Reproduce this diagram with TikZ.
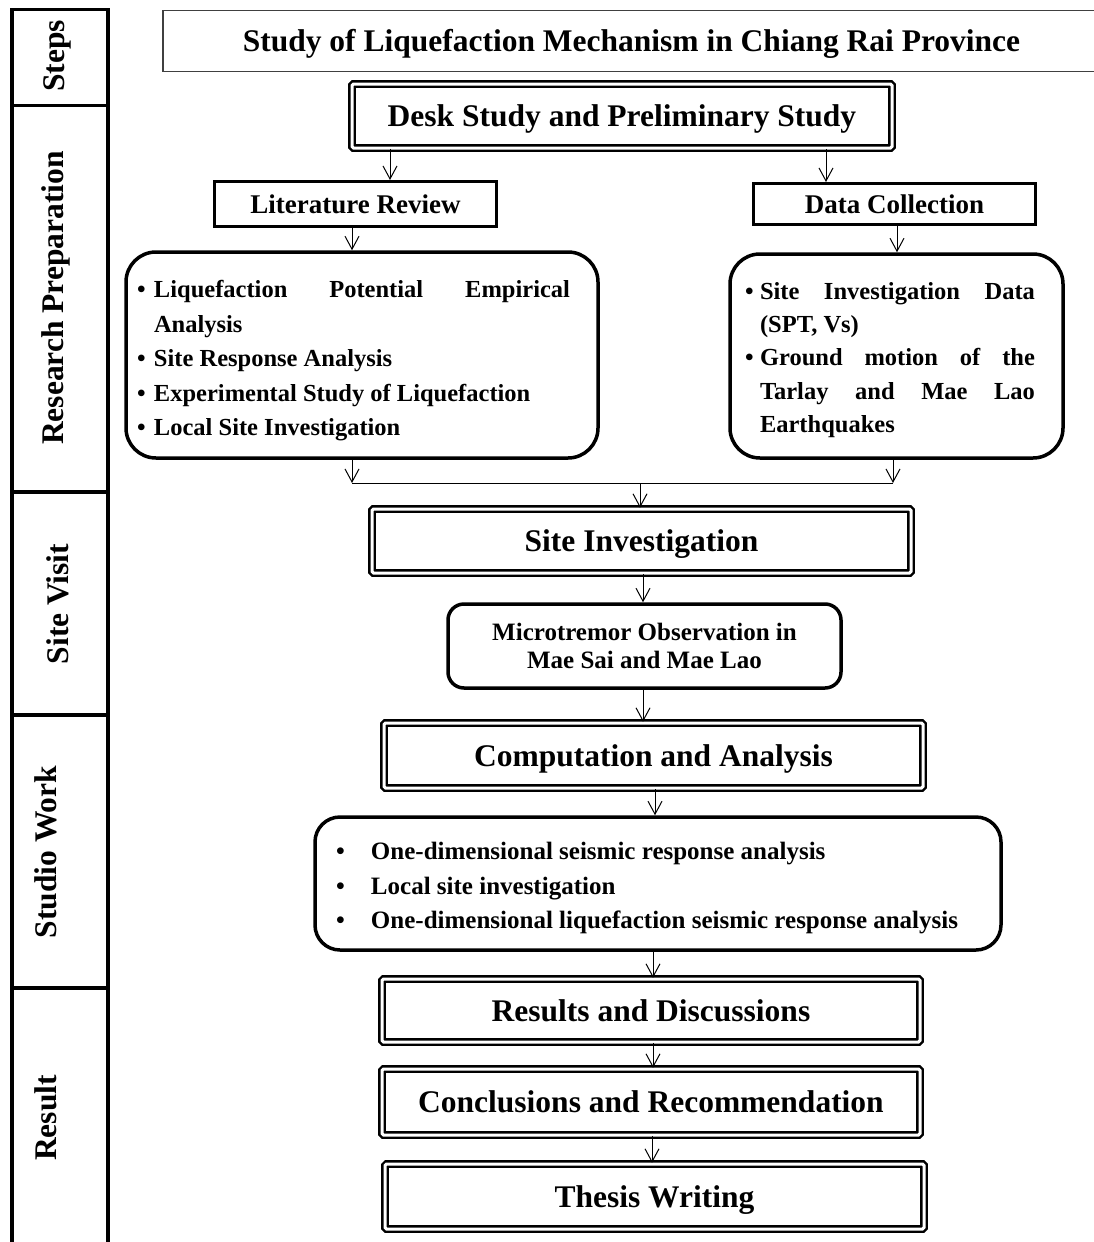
\documentclass[tikz,border=0pt]{standalone}
\usepackage{fontspec}
\setmainfont{Liberation Serif}
\usetikzlibrary{arrows.meta}
\newcommand\myBig{\fontsize{31.5}{36}\selectfont\bfseries}
\newcommand\myMid{\fontsize{27}{32}\selectfont\bfseries}
\newcommand\mySmall{\fontsize{24.5}{34.5}\selectfont\bfseries}
\newcommand\myList{\fontsize{25}{34.5}\selectfont\bfseries}
\begin{document}
\begin{tikzpicture}[x=1pt,y=-1pt,
  cell/.style={draw, line width=3.5pt, minimum width=96pt, inner sep=0pt},
  dbox/.style={draw, double, line width=2.4pt, double distance=3pt, inner sep=0pt, rounded corners=1.5pt, font=\myBig, text height=21pt, text depth=0pt},
  sbox/.style={draw, line width=3pt, inner sep=0pt, font=\myMid, text height=18pt, text depth=0pt},
  rboxA/.style={draw, line width=3.5pt, rounded corners=30pt, inner sep=0pt},
  rboxB/.style={draw, line width=3.5pt, rounded corners=16pt, inner sep=0pt},
  arr/.style={-{Straight Barb[length=13pt,width=14pt]}, line width=1pt},
  lab/.style={rotate=90, font=\myBig, inner sep=0pt, text height=21pt, text depth=0pt}]
\useasboundingbox (0,0) rectangle (1094,1242);

% ---- steps column ----
\node[cell, minimum height=96pt]    (c1) at (60,57.5) {};
\node[cell, minimum height=386.5pt] (c2) at (60,298.75) {};
\node[cell, minimum height=223pt]   (c3) at (60,603.5) {};
\node[cell, minimum height=273pt]   (c4) at (60,851.5) {};
\node[cell, minimum height=272pt]   (c5) at (60,1124) {};
\node[lab] (l1) at (54,56) {Steps};
\node[lab] (l2) at (53,298) {Research Preparation};
\node[lab] (l3) at (58,604) {Site Visit};
\node[lab] (l4) at (46,852) {Studio Work};
\node[lab] (l5) at (46,1118) {Result};

% ---- title ----
\node[draw=black!75, line width=1.3pt, minimum width=937pt, minimum height=61pt, inner sep=0pt, font=\myBig, text height=21pt, text depth=0pt]
  (title) at (631.5,41) {Study of Liquefaction Mechanism in Chiang Rai Province};

% ---- research preparation ----
\node[dbox, minimum width=540pt, minimum height=64pt] (desk) at (622,116) {Desk Study and Preliminary Study};
\node[sbox, minimum width=282pt, minimum height=45pt] (litrev) at (355.5,204) {Literature Review};
\node[sbox, minimum width=282pt, minimum height=41pt] (datacol) at (894.5,204) {Data Collection};

\node[rboxA, minimum width=472pt, minimum height=206pt] (lit) at (362,355) {\begin{minipage}{450pt}\mySmall
\vspace*{12pt}
\makebox[17pt][l]{\textbullet}\makebox[416pt][s]{Liquefaction Potential Empirical}\\
\hspace*{17pt}Analysis\\
\makebox[17pt][l]{\textbullet}Site Response Analysis\\
\makebox[17pt][l]{\textbullet}Experimental Study of Liquefaction\\
\makebox[17pt][l]{\textbullet}Local Site Investigation
\end{minipage}};

\node[rboxA, minimum width=333pt, minimum height=204pt] (data) at (896.5,356) {\begin{minipage}{303pt}\fontsize{24.5}{33.3}\selectfont\bfseries
\vspace*{8pt}
\makebox[15pt][l]{\textbullet}\makebox[275pt][s]{Site Investigation Data}\\
\hspace*{15pt}(SPT, Vs)\\
\makebox[15pt][l]{\textbullet}\makebox[275pt][s]{Ground motion of the}\\
\hspace*{15pt}\makebox[275pt][s]{Tarlay and Mae Lao}\\
\hspace*{15pt}Earthquakes
\end{minipage}};

\coordinate (mL) at (352,483);
\coordinate (mR) at (893,483);
\coordinate (mC) at (640,483);

% ---- site visit ----
\node[dbox, minimum width=539pt, minimum height=64pt] (site) at (641.5,541) {Site Investigation};
\node[rboxB, minimum width=393pt, minimum height=84pt, align=center, font=\fontsize{25}{28}\selectfont\bfseries]
  (micro) at (644.5,646) {Microtremor Observation in\\Mae Sai and Mae Lao};

% ---- studio work ----
\node[dbox, minimum width=539pt, minimum height=65pt] (comp) at (653.5,755.5) {Computation and Analysis};
\node[rboxA, rounded corners=25pt, minimum width=686pt, minimum height=133pt] (studio) at (658,883.5) {\begin{minipage}{644pt}\myList
\vspace*{10pt}
\makebox[35pt][l]{\textbullet}One-dimensional seismic response analysis\\
\makebox[35pt][l]{\textbullet}Local site investigation\\
\makebox[35pt][l]{\textbullet}One-dimensional liquefaction seismic response analysis
\end{minipage}};

% ---- result ----
\node[dbox, minimum width=538pt, minimum height=63pt] (res) at (651,1010.5) {Results and Discussions};
\node[dbox, minimum width=538pt, minimum height=66pt] (concl) at (651,1102) {Conclusions and Recommendation};
\node[dbox, minimum width=539pt, minimum height=65pt] (thesis) at (654.5,1196.5) {Thesis Writing};

% ---- connectors ----
\draw[arr] (desk.south -| 390,0) -- (litrev.north -| 390,0);
\draw[arr] (desk.south -| 826,0) -- (datacol.north -| 826,0);
\draw[arr] (litrev.south -| 352,0) -- (lit.north -| 352,0);
\draw[arr] (datacol.south -| 897,0) -- (data.north -| 897,0);
\draw[arr] (lit.south -| mL) -- (mL);
\draw[arr] (data.south -| mR) -- (mR);
\draw[line width=1pt] (mL) -- (mR);
\draw[arr] (mC) -- (site.north -| mC);
\draw[arr] (site.south -| 643,0) -- (micro.north -| 643,0);
\draw[arr] (micro.south -| 643,0) -- (comp.north -| 643,0);
\draw[arr] (comp.south -| 655,0) -- (studio.north -| 655,0);
\draw[arr] (studio.south -| 653,0) -- (res.north -| 653,0);
\draw[arr] (res.south -| 653,0) -- (concl.north -| 653,0);
\draw[arr] (concl.south -| 652,0) -- (thesis.north -| 652,0);
\end{tikzpicture}
\end{document}
